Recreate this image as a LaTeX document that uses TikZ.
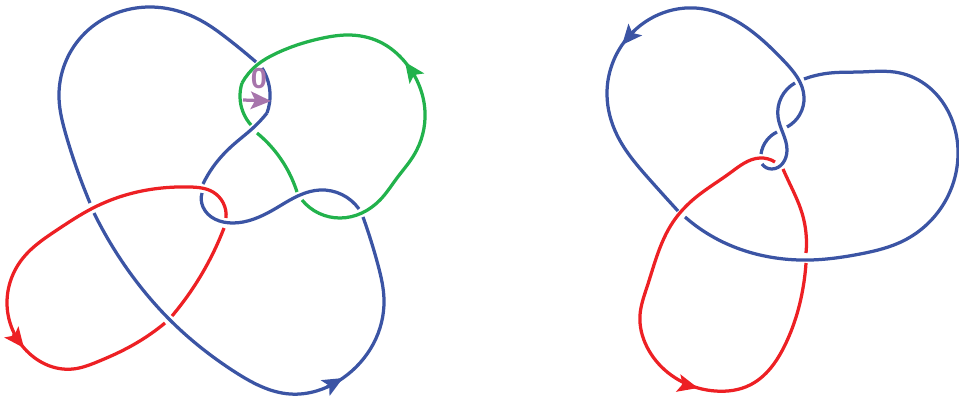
\documentclass[tikz,border=0pt]{standalone}
\usepackage{fontspec}
\setsansfont{Liberation Sans}
\usetikzlibrary{arrows.meta,hobby}
\definecolor{knotblue}{HTML}{3B54A4}
\definecolor{knotred}{HTML}{ED2024}
\definecolor{knotgreen}{HTML}{22B24C}
\definecolor{knotpurple}{HTML}{A775AC}
\begin{document}
\begin{tikzpicture}[x=0.02cm, y=-0.02cm]

% --- Global TikZ Styles for Consistency ---
\tikzset{
    strand/.style={line width=1.85pt, line join=round, use Hobby shortcut},
    strandB/.style={strand, draw=knotblue},
    strandR/.style={strand, draw=knotred},
    strandG/.style={strand, draw=knotgreen},
    tip/.style={-{Stealth[length=11.5pt, width=10pt, inset=2.5pt]}, line width=1.85pt},
    zero/.style={text=knotpurple, font=\sffamily\bfseries\fontsize{16.5}{17}\selectfont, inner sep=0pt}
}
\useasboundingbox (0,0) rectangle (959,399);

    % Linker knoop, blauw
    \draw[strandB] (256,62) .. (228,39) .. (200,20) .. (150,7) .. (85,33) .. (59,98) .. (66,135) .. (90,203);
    \draw[strandB] (94,213) .. (133,277) .. (170,320) .. (235,372) .. (290,394) .. (343,378) .. (384,300) .. (378,265) .. (363,217);
    \draw[strandB] (359,209) .. (320,190) .. (300,195) .. (273,210) .. (233,223) .. (203,207) .. (202,193);
    \draw[strandB] (203,184) .. (213,167) .. (233,145) .. (253,128) .. (267,113);
    \draw[strandB] (267,113) .. (270,93) .. (262,68);
    \draw[tip, knotblue] (327,387) -- (343,378);

    % Linker knoop, groen
    \draw[strandG] (251,125) .. (243,112) .. (242,83);
    \draw[strandG] (242,83) .. (257,65) .. (277,53) .. (323,38) .. (347,35) .. (380,42) .. (405,62) .. (425,112) .. (414,155) .. (397,178) .. (380,200) .. (340,218) .. (302,200);
    \draw[strandG] (257,133) .. (278,155) .. (297,192);
    \draw[tip, knotgreen] (415,76) -- (405,62);

    % Linker knoop, rood
    \draw[strandR] (226,218) .. (213,192) .. (190,187) .. (133,193) .. (93,208) .. (57,230) .. (23,258) .. (7,303) .. (24,348) .. (73,369) .. (97,362) .. (133,345) .. (165,323);
    \draw[strandR] (172,316) .. (200,277) .. (224,228);
    \draw[tip, knotred] (13,334) -- (24,348);

    % Markering
    \coordinate (m0) at (243,100);
    \coordinate (m1) at (271,101);
    \node[zero] (nul) at (259,79) {0};
    \draw[tip, knotpurple] (m0) -- (m1);

    % Rechter knoop, blauw
    \draw[strandB] (795,83) .. (778,117) .. (787,150) .. (772,169) .. (762,164);
    \draw[strandB] (761,154) .. (767,140) .. (777,132);
    \draw[strandB] (787,127) .. (804,97) .. (783,60) .. (750,30) .. (695,8) .. (622,45) .. (607,95) .. (617,135) .. (650,180) .. (678,211);
    \draw[strandB] (685,217) .. (715,238) .. (760,255) .. (810,260) .. (860,254) .. (905,240) .. (958,155) .. (900,73) .. (860,72) .. (830,73) .. (804,79);
    \draw[tip, knotblue] (634,31) -- (622,45);

    % Rechter knoop, rood
    \draw[strandR] (775,162) .. (760,158) .. (730,173) .. (695,198) .. (673,222) .. (647,287) .. (640,315) .. (647,347) .. (698,388) .. (715,391) .. (750,385) .. (785,345) .. (803,288) .. (806,263);
    \draw[strandR] (806,253) .. (802,213) .. (788,180) .. (783,169);
    \draw[tip, knotred] (682,384) -- (698,388);

\end{tikzpicture}
\end{document}
